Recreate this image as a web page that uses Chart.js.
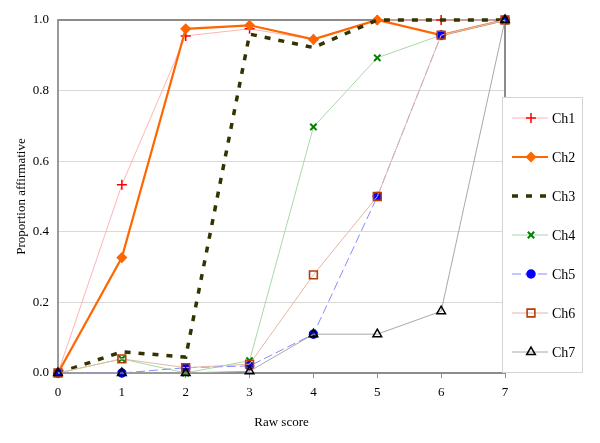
<!DOCTYPE html>
<html>
<head>
<meta charset="utf-8">
<script src="https://cdn.jsdelivr.net/npm/chart.js@4/dist/chart.umd.min.js"></script>
<style>
  html, body { margin: 0; padding: 0; background: #fff; }
</style>
</head>
<body>
<canvas id="chart" width="600" height="443"></canvas>
<script>
// x categories (raw score)
const scores = ["0", "1", "2", "3", "4", "5", "6", "7"];
const yTicks = [0, 0.2, 0.4, 0.6, 0.8, 1.0];

// proportion affirmative per channel
const ch1 = [0, 0.533, 0.955, 0.975, 0.945, 1.0, 1.0, 1.0];
const ch2 = [0, 0.327, 0.975, 0.985, 0.945, 1.0, 0.957, 1.0];
const ch3 = [0, 0.06, 0.045, 0.96, 0.922, 1.0, 1.0, 1.0];
const ch4 = [0, 0.04, 0.0, 0.035, 0.697, 0.893, 0.957, 1.0];
const ch5 = [0, 0, 0.015, 0.02, 0.11, 0.5, 0.957, 1.0];
const ch6 = [0, 0.04, 0.015, 0.025, 0.278, 0.5, 0.957, 1.0];
const ch7 = [0, 0, 0, 0.005, 0.11, 0.11, 0.175, 1.0];

const FONT = "'Liberation Serif', 'Times New Roman', serif";

// ---------- dataset styles ----------
function series(label, data, s) {
  return {
    label,
    data,
    borderColor: s.line,
    borderWidth: s.lw,
    borderDash: s.dash || [],
    pointStyle: s.ps || false,
    pointRadius: s.ps ? s.r : 0,
    pointHoverRadius: s.ps ? s.r : 0,
    pointBackgroundColor: s.fill || "transparent",
    pointBorderColor: s.mark,
    pointBorderWidth: s.mw || 1.5,
    tension: 0,
    fill: false,
    clip: false,
    order: s.order,
  };
}

const datasets = [
  series("Ch1", ch1, { line: "#ffb4b4", lw: 1, ps: "cross", r: 5, mark: "#ff0000", mw: 1.5, order: 6 }),
  series("Ch2", ch2, { line: "#ff6600", lw: 2.2, ps: "rectRot", r: 4.5, mark: "#ff6600", fill: "#ff6600", order: 5 }),
  series("Ch3", ch3, { line: "#333300", lw: 3.5, dash: [6, 8], order: 4 }),
  series("Ch4", ch4, { line: "#a8d8a8", lw: 1, ps: "crossRot", r: 4.5, mark: "#008000", mw: 2, order: 3 }),
  series("Ch5", ch5, { line: "#8a8aff", lw: 1, dash: [9, 4], ps: "circle", r: 4, mark: "#0000ff", fill: "#0000ff", order: 2 }),
  series("Ch6", ch6, { line: "#e4b8a4", lw: 1, ps: "rect", r: 5.5, mark: "#b83c0c", mw: 1.6, order: 1 }),
  series("Ch7", ch7, { line: "#a8a8a8", lw: 1, ps: "triangle", r: 5, mark: "#000000", mw: 1.5, order: 0 }),
];

// ---------- plugins ----------
const frameLines = {
  id: "frameLines",
  beforeDatasetsDraw(chart) {
    const { ctx, chartArea: a } = chart;
    ctx.save();
    ctx.strokeStyle = "#8c8c8c";
    ctx.lineWidth = 2;
    ctx.beginPath();
    ctx.moveTo(a.left, a.top);
    ctx.lineTo(a.right, a.top);
    ctx.lineTo(a.right, a.bottom);
    ctx.stroke();
    ctx.restore();
  },
};

const boxLegend = {
  id: "boxLegend",
  afterDraw(chart) {
    const { ctx } = chart;
    const x0 = 502, y0 = 97, w = 80, h = 275;
    ctx.save();
    ctx.fillStyle = "#ffffff";
    ctx.fillRect(x0, y0, w, h);
    ctx.strokeStyle = "#d4d4d4";
    ctx.lineWidth = 1;
    ctx.strokeRect(x0 + 0.5, y0 + 0.5, w, h);

    chart.data.datasets.forEach((ds, i) => {
      const y = 118 + i * 39;
      ctx.setLineDash(ds.borderDash || []);
      ctx.strokeStyle = ds.borderColor;
      ctx.lineWidth = ds.borderWidth;
      ctx.beginPath();
      ctx.moveTo(512, y);
      ctx.lineTo(548, y);
      ctx.stroke();
      ctx.setLineDash([]);
      if (ds.pointStyle) {
        ctx.fillStyle = ds.pointBackgroundColor;
        ctx.strokeStyle = ds.pointBorderColor;
        ctx.lineWidth = ds.pointBorderWidth;
        Chart.helpers.drawPoint(ctx, {
          pointStyle: ds.pointStyle,
          radius: ds.pointRadius,
          borderWidth: ds.pointBorderWidth,
          rotation: 0,
        }, 531, y);
      }
      ctx.fillStyle = "#000";
      ctx.font = "14px " + FONT;
      ctx.textAlign = "left";
      ctx.textBaseline = "middle";
      ctx.fillText(ds.label, 552, y + 1);
    });
    ctx.restore();
  },
};

// ---------- chart ----------
new Chart(document.getElementById("chart"), {
  type: "line",
  data: { labels: scores, datasets },
  options: {
    responsive: false,
    animation: false,
    layout: { padding: { top: 20, right: 95, left: 0, bottom: 0 } },
    plugins: { legend: { display: false }, tooltip: { enabled: false } },
    scales: {
      x: {
        type: "category",
        offset: false,
        afterFit: (s) => { s.height = 70; },
        grid: { drawOnChartArea: false, drawTicks: true, tickLength: 5, color: "#8c8c8c" },
        border: { color: "#8c8c8c", width: 2 },
        ticks: { color: "#000", padding: 7, font: { family: FONT, size: 13 } },
        title: {
          display: true,
          text: "Raw score",
          color: "#000",
          font: { family: FONT, size: 13 },
          padding: { top: 0, bottom: 13 },
        },
      },
      y: {
        min: 0,
        max: 1,
        afterFit: (s) => { s.width = 58; },
        afterBuildTicks: (s) => { s.ticks = yTicks.map((v) => ({ value: v })); },
        grid: { color: "#d9d9d9", drawTicks: false, tickLength: 0 },
        border: { color: "#999999", width: 2 },
        ticks: {
          color: "#000",
          padding: 9,
          font: { family: FONT, size: 13 },
          callback: (v) => Number(v).toFixed(1),
        },
        title: {
          display: true,
          text: "Proportion affirmative",
          color: "#000",
          font: { family: FONT, size: 13 },
          padding: { top: 14, bottom: 0 },
        },
      },
    },
  },
  plugins: [frameLines, boxLegend],
});
</script>
</body>
</html>
